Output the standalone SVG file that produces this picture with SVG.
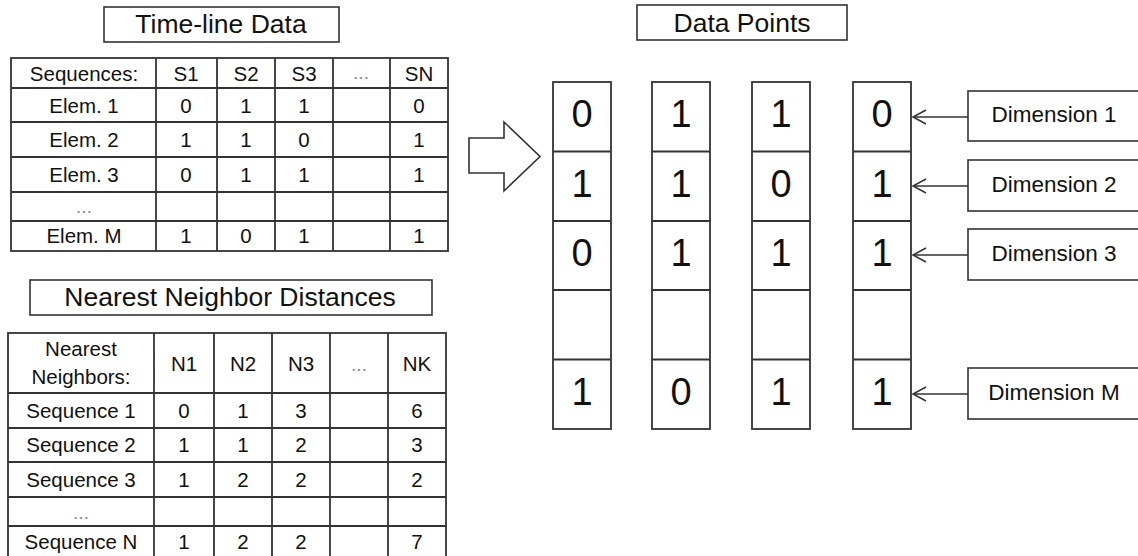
<svg xmlns="http://www.w3.org/2000/svg" width="1138" height="556" viewBox="0 0 1138 556">
<style>
  .bg{fill:#ffffff}
  .box{fill:#ffffff;stroke:#333333;stroke-width:1.6}
  .grid{stroke:#333333;stroke-width:1.8;fill:none}
  .t{font-family:"Liberation Sans",Arial,sans-serif;fill:#111111;text-anchor:middle}
  .title{font-size:26.5px}
  .cell{font-size:20.5px}
  .big{font-size:38px}
  .dim{font-size:22.5px}
  .ell{font-family:"Liberation Sans",Arial,sans-serif;fill:#8a8a8a;text-anchor:middle;font-size:19px}
  .conn{stroke:#333333;stroke-width:1.5;fill:none}
</style>
<defs>
  <marker id="open" markerUnits="userSpaceOnUse" markerWidth="16" markerHeight="18" refX="14" refY="8" orient="auto" viewBox="0 0 16 16">
    <path d="M1,1 L14,8 L1,15" fill="none" stroke="#333333" stroke-width="1.5"/>
  </marker>
</defs>
<rect class="bg" x="0" y="0" width="1138" height="556"/>

<g id="timeline-title">
  <rect class="box" x="104" y="7" width="235" height="35"/>
  <text class="t title" x="221" y="33">Time-line Data</text>
</g>

<g id="timeline-table">
  <rect class="grid" x="11" y="58" width="437" height="193"/>
  <path class="grid" d="M11,88H448M11,122H448M11,157H448M11,192H448M11,221H448M156,58V251M217,58V251M275,58V251M333,58V251M390,58V251"/>
  <g class="t cell">
    <text x="84" y="80.5">Sequences:</text>
    <text x="186" y="80.5">S1</text>
    <text x="246" y="80.5">S2</text>
    <text x="304" y="80.5">S3</text>
    <text x="419" y="80.5">SN</text>
    <text x="84" y="112.5">Elem. 1</text>
    <text x="186" y="112.5">0</text>
    <text x="246" y="112.5">1</text>
    <text x="304" y="112.5">1</text>
    <text x="419" y="112.5">0</text>
    <text x="84" y="147">Elem. 2</text>
    <text x="186" y="147">1</text>
    <text x="246" y="147">1</text>
    <text x="304" y="147">0</text>
    <text x="419" y="147">1</text>
    <text x="84" y="182">Elem. 3</text>
    <text x="186" y="182">0</text>
    <text x="246" y="182">1</text>
    <text x="304" y="182">1</text>
    <text x="419" y="182">1</text>
    <text x="84" y="242.5">Elem. M</text>
    <text x="186" y="242.5">1</text>
    <text x="246" y="242.5">0</text>
    <text x="304" y="242.5">1</text>
    <text x="419" y="242.5">1</text>
  </g>
  <text class="ell" x="361" y="79">...</text>
  <text class="ell" x="84" y="213">...</text>
</g>

<g id="nn-title">
  <rect class="box" x="30" y="280" width="402" height="35"/>
  <text class="t title" x="230" y="306">Nearest Neighbor Distances</text>
</g>

<g id="nn-table">
  <rect class="grid" x="8" y="333" width="438" height="226"/>
  <path class="grid" d="M8,393H446M8,428H446M8,462H446M8,497H446M8,526H446M154,333V559M214,333V559M272,333V559M330,333V559M388,333V559"/>
  <g class="t cell">
    <text x="81" y="356">Nearest</text>
    <text x="81" y="384">Neighbors:</text>
    <text x="184" y="371">N1</text>
    <text x="243" y="371">N2</text>
    <text x="301" y="371">N3</text>
    <text x="417" y="371">NK</text>
    <text x="81" y="417.5">Sequence 1</text>
    <text x="184" y="417.5">0</text>
    <text x="243" y="417.5">1</text>
    <text x="301" y="417.5">3</text>
    <text x="417" y="417.5">6</text>
    <text x="81" y="452">Sequence 2</text>
    <text x="184" y="452">1</text>
    <text x="243" y="452">1</text>
    <text x="301" y="452">2</text>
    <text x="417" y="452">3</text>
    <text x="81" y="487">Sequence 3</text>
    <text x="184" y="487">1</text>
    <text x="243" y="487">2</text>
    <text x="301" y="487">2</text>
    <text x="417" y="487">2</text>
    <text x="81" y="548.5">Sequence N</text>
    <text x="184" y="548.5">1</text>
    <text x="243" y="548.5">2</text>
    <text x="301" y="548.5">2</text>
    <text x="417" y="548.5">7</text>
  </g>
  <text class="ell" x="359" y="371">...</text>
  <text class="ell" x="81" y="519">...</text>
</g>

<g id="big-arrow">
  <path class="box" d="M469,138H504V122L540,156.5L504,191V173H469Z"/>
</g>

<g id="dp-title">
  <rect class="box" x="637" y="5" width="210" height="35"/>
  <text class="t title" x="742" y="32.3">Data Points</text>
</g>

<g id="point-1">
  <rect class="grid" x="553" y="82" width="58" height="347"/>
  <path class="grid" d="M553,151.5H611M553,221H611M553,290H611M553,359.5H611"/>
  <g class="t big">
    <text x="582" y="127">0</text>
    <text x="582" y="196.5">1</text>
    <text x="582" y="266">0</text>
    <text x="582" y="404.5">1</text>
  </g>
</g>
<g id="point-2">
  <rect class="grid" x="652" y="82" width="58" height="347"/>
  <path class="grid" d="M652,151.5H710M652,221H710M652,290H710M652,359.5H710"/>
  <g class="t big">
    <text x="681" y="127">1</text>
    <text x="681" y="196.5">1</text>
    <text x="681" y="266">1</text>
    <text x="681" y="404.5">0</text>
  </g>
</g>
<g id="point-3">
  <rect class="grid" x="752" y="82" width="58" height="347"/>
  <path class="grid" d="M752,151.5H810M752,221H810M752,290H810M752,359.5H810"/>
  <g class="t big">
    <text x="781" y="127">1</text>
    <text x="781" y="196.5">0</text>
    <text x="781" y="266">1</text>
    <text x="781" y="404.5">1</text>
  </g>
</g>
<g id="point-4">
  <rect class="grid" x="853" y="82" width="58" height="347"/>
  <path class="grid" d="M853,151.5H911M853,221H911M853,290H911M853,359.5H911"/>
  <g class="t big">
    <text x="882" y="127">0</text>
    <text x="882" y="196.5">1</text>
    <text x="882" y="266">1</text>
    <text x="882" y="404.5">1</text>
  </g>
</g>

<g id="dimension-1">
  <rect class="box" x="968" y="91" width="180" height="50"/>
  <text class="t dim" x="1054" y="122">Dimension 1</text>
</g>
<g id="dimension-2">
  <rect class="box" x="968" y="160" width="180" height="51"/>
  <text class="t dim" x="1054" y="191.5">Dimension 2</text>
</g>
<g id="dimension-3">
  <rect class="box" x="968" y="229" width="180" height="51"/>
  <text class="t dim" x="1054" y="261">Dimension 3</text>
</g>
<g id="dimension-m">
  <rect class="box" x="968" y="368" width="180" height="51"/>
  <text class="t dim" x="1054" y="400">Dimension M</text>
</g>

<g id="connectors">
  <path class="conn" d="M968,117H913" marker-end="url(#open)"/>
  <path class="conn" d="M968,186H913" marker-end="url(#open)"/>
  <path class="conn" d="M968,255H913" marker-end="url(#open)"/>
  <path class="conn" d="M968,394H913" marker-end="url(#open)"/>
</g>
</svg>
